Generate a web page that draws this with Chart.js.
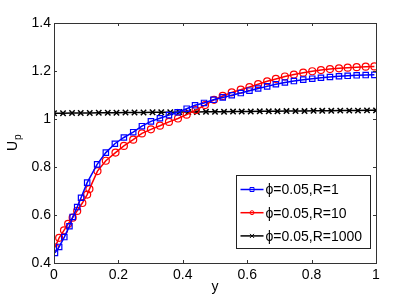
<!DOCTYPE html>
<html>
<head>
<meta charset="utf-8">
<script src="https://cdn.jsdelivr.net/npm/chart.js@4/dist/chart.umd.min.js"></script>
<style>
  body { margin: 0; background: #fff; }
  #wrap { width: 415px; height: 297px; }
</style>
</head>
<body>
<div id="wrap"><canvas id="upChart" width="415" height="297"></canvas></div>
<script>
// values
const xBlue = [0.003, 0.016, 0.032, 0.048, 0.058, 0.072, 0.084, 0.103, 0.134, 0.161, 0.189, 0.217, 0.246, 0.273, 0.301, 0.329, 0.357, 0.384, 0.412, 0.438, 0.466, 0.495, 0.524, 0.552, 0.580, 0.607, 0.634, 0.662, 0.689, 0.717, 0.745, 0.774, 0.802, 0.829, 0.857, 0.885, 0.912, 0.940, 0.968, 0.995];
const yBlue = [0.442, 0.467, 0.508, 0.553, 0.592, 0.633, 0.672, 0.735, 0.811, 0.860, 0.897, 0.923, 0.945, 0.970, 0.990, 1.003, 1.016, 1.028, 1.043, 1.057, 1.067, 1.080, 1.090, 1.099, 1.108, 1.118, 1.127, 1.136, 1.145, 1.152, 1.158, 1.164, 1.168, 1.172, 1.175, 1.178, 1.180, 1.182, 1.183, 1.184];

const xRed = [0.003, 0.016, 0.031, 0.044, 0.058, 0.072, 0.088, 0.103, 0.110, 0.135, 0.161, 0.191, 0.217, 0.246, 0.273, 0.301, 0.329, 0.357, 0.385, 0.412, 0.440, 0.469, 0.497, 0.524, 0.552, 0.580, 0.607, 0.634, 0.662, 0.689, 0.717, 0.745, 0.774, 0.802, 0.829, 0.857, 0.885, 0.912, 0.940, 0.968, 0.995];
const yRed = [0.465, 0.505, 0.536, 0.563, 0.589, 0.617, 0.650, 0.685, 0.708, 0.783, 0.826, 0.860, 0.888, 0.914, 0.940, 0.957, 0.972, 0.988, 1.002, 1.018, 1.037, 1.058, 1.080, 1.096, 1.111, 1.122, 1.133, 1.145, 1.157, 1.167, 1.177, 1.185, 1.193, 1.199, 1.204, 1.208, 1.211, 1.214, 1.216, 1.218, 1.219];

const xBlack = [0, 0.028, 0.056, 0.083, 0.111, 0.139, 0.167, 0.194, 0.222, 0.250, 0.278, 0.306, 0.333, 0.361, 0.389, 0.417, 0.444, 0.472, 0.500, 0.528, 0.556, 0.583, 0.611, 0.639, 0.667, 0.694, 0.722, 0.750, 0.778, 0.806, 0.833, 0.861, 0.889, 0.917, 0.944, 0.972, 1.000];
const yBlack = [1.024, 1.024, 1.025, 1.025, 1.025, 1.026, 1.026, 1.026, 1.027, 1.027, 1.027, 1.028, 1.028, 1.028, 1.029, 1.029, 1.029, 1.030, 1.030, 1.030, 1.031, 1.031, 1.031, 1.032, 1.032, 1.032, 1.033, 1.033, 1.033, 1.034, 1.034, 1.034, 1.035, 1.035, 1.035, 1.036, 1.036];

const seriesLabels = ['\u03d5=0.05,R=1', '\u03d5=0.05,R=10', '\u03d5=0.05,R=1000'];
const xTicks = [0, 0.2, 0.4, 0.6, 0.8, 1];
const yTicks = [0.4, 0.6, 0.8, 1, 1.2, 1.4];

const FONT = '"Liberation Sans", Arial, sans-serif';

function pts(xs, ys) {
    return xs.map((x, i) => ({ x: x, y: ys[i] }));
}

function tickText(v) {
    return String(Math.round(v * 10) / 10);
}

function marker(ctx, style, x, y, r) {
    ctx.beginPath();
    if (style === 'rect') {
        ctx.rect(x - r, y - r, 2 * r, 2 * r);
    } else if (style === 'circle') {
        ctx.arc(x, y, r, 0, Math.PI * 2);
    } else {
        ctx.moveTo(x - r, y - r); ctx.lineTo(x + r, y + r);
        ctx.moveTo(x + r, y - r); ctx.lineTo(x - r, y + r);
    }
    ctx.stroke();
}

// frame, inward ticks, axis titles and the legend box
const decorations = {
    id: 'decorations',
    afterDraw(chart) {
        const ctx = chart.ctx;
        const a = chart.chartArea;
        const xs = chart.scales.x, ys = chart.scales.y;
        ctx.save();
        ctx.strokeStyle = '#333';
        ctx.lineWidth = 1;
        ctx.strokeRect(Math.round(a.left) + 0.5, Math.round(a.top) + 0.5,
            Math.round(a.right - a.left), Math.round(a.bottom - a.top));

        ctx.beginPath();
        xTicks.forEach(v => {
            const px = Math.round(xs.getPixelForValue(v)) + 0.5;
            ctx.moveTo(px, a.bottom); ctx.lineTo(px, a.bottom - 3);
            ctx.moveTo(px, a.top); ctx.lineTo(px, a.top + 3);
        });
        yTicks.forEach(v => {
            const py = Math.round(ys.getPixelForValue(v)) + 0.5;
            ctx.moveTo(a.left, py); ctx.lineTo(a.left + 3, py);
            ctx.moveTo(a.right, py); ctx.lineTo(a.right - 3, py);
        });
        ctx.stroke();

        // axis titles
        ctx.fillStyle = '#000';
        ctx.font = '14px ' + FONT;
        ctx.textAlign = 'center';
        ctx.textBaseline = 'middle';
        ctx.fillText('y', (a.left + a.right) / 2, 287);

        ctx.save();
        ctx.translate(13, (a.top + a.bottom) / 2);
        ctx.rotate(-Math.PI / 2);
        ctx.textAlign = 'left';
        ctx.fillText('U', -8, 0);
        ctx.font = '10px ' + FONT;
        ctx.fillText('p', 3, 5);
        ctx.restore();

        // legend
        const bx = 236.5, by = 175.5, bw = 134, bh = 73;
        ctx.fillStyle = '#fff';
        ctx.fillRect(bx, by, bw, bh);
        ctx.strokeStyle = '#222';
        ctx.strokeRect(bx, by, bw, bh);
        chart.data.datasets.forEach((ds, i) => {
            const y = by + 14 + i * 23.2;
            ctx.strokeStyle = ds.borderColor;
            ctx.lineWidth = 1.5;
            ctx.beginPath();
            ctx.moveTo(bx + 4, y); ctx.lineTo(bx + 27, y);
            ctx.stroke();
            ctx.lineWidth = 1;
            marker(ctx, ds.pointStyle === 'crossRot' ? 'x' : ds.pointStyle, bx + 15.5, y, 2);
            ctx.fillStyle = '#000';
            ctx.font = '14px ' + FONT;
            ctx.textAlign = 'left';
            ctx.fillText(ds.label, bx + 29, y + 1);
        });
        ctx.restore();
    }
};

const config = {
    type: 'scatter',
    data: {
        datasets: [{
            label: seriesLabels[0],
            data: pts(xBlue, yBlue),
            showLine: true,
            borderColor: '#0000ff',
            borderWidth: 1.5,
            pointStyle: 'rect',
            pointRadius: 3.8,
            pointBorderWidth: 1.2,
            pointBackgroundColor: 'rgba(0,0,0,0)',
            pointBorderColor: '#0000ff'
        }, {
            label: seriesLabels[1],
            data: pts(xRed, yRed),
            showLine: true,
            borderColor: '#ff0000',
            borderWidth: 1.5,
            pointStyle: 'circle',
            pointRadius: 3.5,
            pointBorderWidth: 1.2,
            pointBackgroundColor: 'rgba(0,0,0,0)',
            pointBorderColor: '#ff0000'
        }, {
            label: seriesLabels[2],
            data: pts(xBlack, yBlack),
            showLine: true,
            borderColor: '#000000',
            borderWidth: 1.5,
            pointStyle: 'crossRot',
            pointRadius: 3.8,
            pointBorderWidth: 1.5,
            pointBackgroundColor: 'rgba(0,0,0,0)',
            pointBorderColor: '#000000'
        }]
    },
    options: {
        responsive: false,
        animation: false,
        layout: { padding: { top: 23, right: 39, left: 0, bottom: 0 } },
        plugins: { legend: { display: false }, tooltip: { enabled: false } },
        scales: {
            x: {
                type: 'linear',
                min: 0, max: 1,
                afterFit: s => { s.height = 34; },
                afterBuildTicks: s => { s.ticks = xTicks.map(v => ({ value: v })); },
                grid: { display: false, drawTicks: false },
                border: { display: false },
                ticks: { padding: 4, color: '#000', font: { family: FONT, size: 14 }, maxRotation: 0, callback: tickText }
            },
            y: {
                min: 0.4, max: 1.4,
                afterFit: s => { s.width = 54; },
                afterBuildTicks: s => { s.ticks = yTicks.map(v => ({ value: v })); },
                grid: { display: false, drawTicks: false },
                border: { display: false },
                ticks: { padding: 3, color: '#000', font: { family: FONT, size: 14 }, callback: tickText }
            }
        }
    },
    plugins: [decorations]
};

const upChart = new Chart(document.getElementById('upChart'), config);
</script>
</body>
</html>
